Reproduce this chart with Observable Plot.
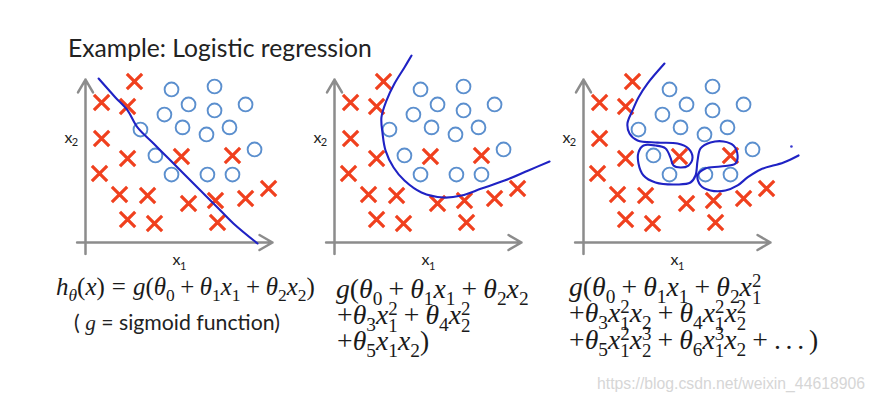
<!DOCTYPE html>
<html><head><meta charset="utf-8">
<script src="https://cdn.jsdelivr.net/npm/d3@7"></script>
<script src="https://cdn.jsdelivr.net/npm/@observablehq/plot@0.6"></script>
<style>
html,body{margin:0;padding:0;background:#fff;}
#wrap{position:relative;width:876px;height:402px;overflow:hidden;background:#fff;}
#chart{position:absolute;left:0;top:0;}
.t{position:absolute;white-space:nowrap;line-height:1.1;}
.in{display:inline-block;}
.bl{display:inline-block;width:0;height:0;}
.m{font-family:"Liberation Serif","DejaVu Serif",serif;color:#1a1a1a;}
.m i{font-style:italic;}
.m sub{font-size:0.7em;vertical-align:-0.35em;line-height:0;}
.m .ss{display:inline-block;font-size:0.68em;line-height:0.88;vertical-align:-0.42em;text-align:left;}
.op{padding:0 0.22em;}
.rel{padding:0 0.28em;}
.dots{letter-spacing:0.17em;}
.sans{font-family:Lato,"Open Sans",sans-serif;color:#222;}
.ser{font-family:"Liberation Serif",serif;font-style:italic;}
.wm{font-family:"Liberation Sans",Arial,sans-serif;color:#d6d6d6;}
</style></head>
<body>
<div id="wrap"><div id="chart"></div></div>
<script>
// ---------- data (panel-independent units) ----------
const panels = ["1", "2", "3"];
const crossX = [2.62, 0.86, 2.25, 0.86, 2.25, 0.75, 1.82, 3.32, 5.13, 7.86, 5.51, 6.95, 8.56, 9.79, 2.25, 3.69, 7.06];
const crossY = [9.88, 8.59, 8.34, 6.38, 5.15, 4.23, 2.94, 2.88, 5.28, 5.34, 2.39, 2.58, 2.70, 3.31, 1.41, 1.17, 1.23];
const circleX = [4.60, 6.90, 5.51, 4.22, 6.90, 8.56, 2.94, 5.19, 6.47, 7.70, 9.04, 3.74, 4.60, 6.52, 7.86];
const circleY = [9.39, 9.57, 8.47, 7.85, 8.10, 8.47, 6.93, 7.06, 6.63, 7.06, 5.71, 5.34, 4.17, 4.17, 4.17];
// decision boundaries, one per panel
const line1X = [0.70, 1.60, 2.25, 2.78, 3.64, 4.55, 5.24, 6.15, 7.06, 7.91, 9.20];
const line1Y = [10.06, 8.90, 8.10, 7.06, 6.07, 5.03, 4.23, 3.19, 2.15, 1.17, -0.06];
const line2X = [4.12, 3.74, 3.21, 2.78, 2.51, 2.57, 2.73, 3.16, 3.74, 4.65, 5.83, 6.79, 7.86, 9.09, 10.37, 11.50];
const line2Y = [11.47, 10.74, 9.75, 8.71, 7.67, 6.69, 5.64, 4.60, 3.80, 3.07, 2.76, 2.88, 3.31, 3.80, 4.42, 4.97];
const line3X = [4.33, 3.42, 2.94, 2.62, 2.35, 2.46, 2.89, 3.96, 5.03, 5.61, 5.83, 5.61, 5.19, 4.81, 4.65, 4.39, 3.85, 3.21, 2.94, 2.94, 3.21, 3.85, 5.03, 5.72, 5.99, 6.10, 6.26, 6.79, 7.49, 8.02, 8.24, 8.13, 7.33, 6.52, 6.10, 6.26, 6.79, 7.59, 8.24, 8.77, 9.47, 10.70, 11.50];
const line3Y = [10.98, 9.75, 8.90, 8.10, 7.30, 6.69, 6.26, 6.13, 6.07, 5.77, 5.21, 4.72, 4.60, 4.72, 5.21, 5.77, 5.95, 5.95, 5.52, 4.85, 4.11, 3.68, 3.56, 3.68, 4.11, 5.03, 5.77, 6.13, 6.20, 5.95, 5.34, 4.85, 4.66, 4.54, 4.11, 3.50, 3.19, 3.19, 3.50, 3.99, 4.48, 4.91, 5.34];
const strayX = [11.12];
const strayY = [5.89];
const axisLabelMain = ["x", "x"];
const axisLabelSub = ["1", "2"];
const X_DOMAIN = [0, 10];
const Y_DOMAIN = [0, 10];

// ---------- build tables ----------
const crosses = crossX.map((x, i) => ({x, y: crossY[i]}));
const circles = circleX.map((x, i) => ({x, y: circleY[i]}));
const curves = [
  ...line1X.map((x, i) => ({panel: panels[0], x, y: line1Y[i]})),
  ...line2X.map((x, i) => ({panel: panels[1], x, y: line2Y[i]})),
  ...line3X.map((x, i) => ({panel: panels[2], x, y: line3Y[i]}))
];
const stray = strayX.map((x, i) => ({panel: panels[2], x, y: strayY[i]}));
const axes = [
  {x1: X_DOMAIN[0] - 0.45, y1: Y_DOMAIN[0], x2: X_DOMAIN[1], y2: Y_DOMAIN[0]},
  {x1: X_DOMAIN[0], y1: Y_DOMAIN[0] - 0.7, x2: X_DOMAIN[0], y2: Y_DOMAIN[1]}
];
const xMid = 4.87, x2At = 6.44;
const labelFont = "Lato, 'Open Sans', sans-serif";

const chart = Plot.plot({
  width: 876, height: 402,
  marginTop: 79, marginBottom: 160, marginLeft: 85, marginRight: 106,
  x: {domain: X_DOMAIN, axis: null},
  y: {domain: Y_DOMAIN, axis: null},
  fx: {domain: panels, paddingInner: 0.249, paddingOuter: 0, axis: null, label: null},
  style: {background: "transparent", overflow: "visible"},
  marks: [
    Plot.arrow(axes, {x1: "x1", y1: "y1", x2: "x2", y2: "y2", stroke: "#8c8c8c", strokeWidth: 2.5, headLength: 9, headAngle: 60}),
    Plot.dot(circles, {x: "x", y: "y", r: 6.9, stroke: "#5b8fce", strokeWidth: 1.9, fill: "none"}),
    Plot.dot(crosses, {x: "x", y: "y", symbol: "times", r: 7, stroke: "#f0401e", strokeWidth: 3.2}),
    Plot.line(curves, {x: "x", y: "y", fx: "panel", z: "panel", curve: "catmull-rom", stroke: "#1f22c4", strokeWidth: 2.1}),
    Plot.dot(stray, {x: "x", y: "y", fx: "panel", r: 1.3, fill: "#3a3ad0", stroke: null}),
    // x1 label
    Plot.text([axisLabelMain[0]], {x: () => xMid, y: () => Y_DOMAIN[0], text: d => d, dy: 17, fontSize: 16, fontFamily: labelFont, fill: "#222"}),
    Plot.text([axisLabelSub[0]], {x: () => xMid, y: () => Y_DOMAIN[0], text: d => d, dx: 6.5, dy: 23.5, fontSize: 11, fontFamily: labelFont, fill: "#222"}),
    // x2 label
    Plot.text([axisLabelMain[1]], {x: () => X_DOMAIN[0], y: () => x2At, text: d => d, dx: -17, fontSize: 16, fontFamily: labelFont, fill: "#222"}),
    Plot.text([axisLabelSub[1]], {x: () => X_DOMAIN[0], y: () => x2At, text: d => d, dx: -10.5, dy: 5, fontSize: 11, fontFamily: labelFont, fill: "#222"})
  ]
});
document.getElementById("chart").appendChild(chart);

// ---------- text ----------
const wrap = document.getElementById("wrap");
const th = n => `<i>θ</i><sub>${n}</sub>`;
const xv = n => `<i>x</i><sub>${n}</sub>`;
const xs = (sub, sup) => `<i>x</i><span class="ss">${sup}<br>${sub}</span>`;
const op = `<span class="op">+</span>`;
const texts = [];
function add(html, cls, left, baseline, size, target, group) {
  const el = document.createElement("div");
  el.className = "t " + cls;
  el.style.left = left + "px";
  el.style.top = "0px";
  el.style.fontSize = size + "px";
  el.innerHTML = `<span class="in">${html}<span class="bl"></span></span>`;
  wrap.appendChild(el);
  texts.push({el, left, baseline, size, target, group});
}
add("Example: Logistic regression", "sans", 68, 57, 24, 304, "title");
add(`<i>h</i><sub><i>θ</i></sub>(<i>x</i>)<span class="rel">=</span><i>g</i>(${th(0)}${op}${th(1)}${xv(1)}${op}${th(2)}${xv(2)})`, "m", 56, 295, 20, 259, "math1");
add(`( <span class="ser">g</span> = sigmoid function)`, "sans", 74, 330, 17, 206, "sig");
add(`<i>g</i>(${th(0)}${op}${th(1)}${xv(1)}${op}${th(2)}${xv(2)}`, "m", 336, 298, 20, 191, "math");
add(`+${th(3)}${xs(1, 2)}${op}${th(4)}${xs(2, 2)}`, "m", 337, 324, 20, 135, "math");
add(`+${th(5)}${xv(1)}${xv(2)})`, "m", 337, 350, 20, 95, "math");
add(`<i>g</i>(${th(0)}${op}${th(1)}${xv(1)}${op}${th(2)}${xs(1, 2)}`, "m", 569, 296, 20, 184, "math");
add(`+${th(3)}${xs(1, 2)}${xv(2)}${op}${th(4)}${xs(1, 2)}${xs(2, 2)}`, "m", 569, 322, 20, 180, "math");
add(`+${th(5)}${xs(1, 2)}${xs(2, 3)}${op}${th(6)}${xs(1, 3)}${xv(2)}${op}<span class="dots">...</span>)`, "m", 569, 349, 20, 248, "math");
add("https://blog.csdn.net/weixin_44618906", "wm", 597, 389, 15, 268, "wm");

function layout() {
  const groups = {};
  texts.forEach(t => {
    t.el.style.fontSize = t.size + "px";
    if (t.target) {
      const w = t.el.querySelector(".in").getBoundingClientRect().width;
      (groups[t.group] = groups[t.group] || []).push(t.target / w);
    }
  });
  const scale = {};
  for (const g in groups) scale[g] = d3.mean(groups[g]);
  const box = wrap.getBoundingClientRect();
  texts.forEach(t => { t.el.style.fontSize = (t.size * (scale[t.group] || 1)) + "px"; });
  texts.forEach(t => {
    t.el.style.top = "0px";
    const b = t.el.querySelector(".bl").getBoundingClientRect().top - box.top;
    t.el.style.top = (t.baseline - b) + "px";
  });
}
layout();
if (document.fonts && document.fonts.ready) document.fonts.ready.then(layout);
</script>
</body></html>
